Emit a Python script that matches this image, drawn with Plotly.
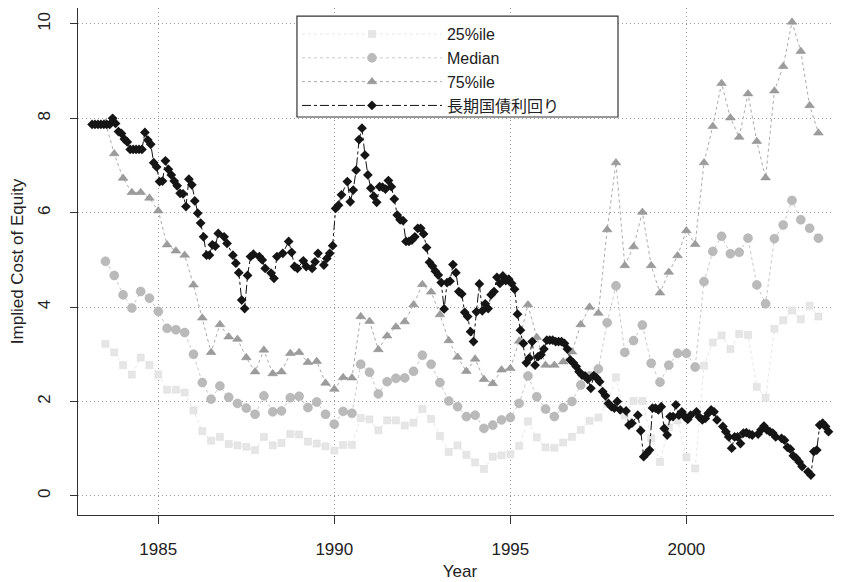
import plotly.graph_objects as go

# ---------------- data ----------------
q_start = 1983.5          # first quarter shown for the percentile series
q_step = 0.25

p25 = [3.22, 3.04, 2.77, 2.57, 2.93, 2.77, 2.57, 2.25, 2.25, 2.19,
       1.81, 1.37, 1.17, 1.25, 1.10, 1.07, 1.04, 0.97, 1.25, 1.07,
       1.12, 1.31, 1.30, 1.15, 1.11, 1.05, 0.96, 1.08, 1.08, 1.65,
       1.62, 1.39, 1.60, 1.60, 1.49, 1.55, 1.84, 1.63, 1.27, 0.93,
       1.07, 0.87, 0.71, 0.57, 0.83, 0.86, 0.88, 1.06, 1.58, 1.24,
       1.03, 1.02, 1.13, 1.25, 1.40, 1.59, 1.66, 1.95, 2.51, 1.70,
       2.01, 2.01, 1.22, 0.72, 1.45, 1.60, 0.82, 0.58, 2.76, 3.25,
       3.40, 3.11, 3.43, 3.41, 2.31, 2.08, 3.54, 3.72, 3.93, 3.74,
       4.03, 3.80]

median = [4.97, 4.67, 4.26, 3.98, 4.33, 4.19, 3.91, 3.55, 3.52, 3.46,
          3.00, 2.40, 2.05, 2.33, 2.09, 1.96, 1.86, 1.73, 2.12, 1.78,
          1.80, 2.08, 2.11, 1.87, 1.99, 1.73, 1.52, 1.79, 1.75, 2.79,
          2.62, 2.16, 2.42, 2.49, 2.50, 2.64, 2.98, 2.79, 2.40, 2.01,
          1.89, 1.68, 1.71, 1.43, 1.50, 1.61, 1.66, 1.96, 2.54, 2.10,
          1.84, 1.68, 1.87, 2.00, 2.35, 2.54, 2.69, 3.67, 4.45, 3.04,
          3.29, 3.62, 2.81, 2.41, 2.77, 3.02, 3.02, 2.73, 4.54, 5.18,
          5.50, 5.13, 5.16, 5.46, 4.47, 4.07, 5.45, 5.74, 6.26, 5.85,
          5.67, 5.46]

p75 = [7.90, 7.25, 6.73, 6.43, 6.43, 6.31, 6.04, 5.32, 5.19, 5.10,
       4.47, 3.77, 3.04, 3.63, 3.37, 3.32, 2.93, 2.63, 3.09, 2.59,
       2.63, 3.02, 3.04, 2.83, 2.85, 2.39, 2.26, 2.51, 2.50, 3.80,
       3.70, 3.10, 3.39, 3.58, 3.69, 4.05, 4.48, 4.32, 3.84, 3.29,
       2.94, 2.64, 2.90, 2.47, 2.38, 2.67, 2.70, 3.28, 4.05, 3.36,
       2.77, 2.77, 2.84, 3.05, 3.63, 4.00, 3.87, 5.64, 7.06, 4.88,
       5.28, 6.01, 4.88, 4.30, 4.74, 5.09, 5.62, 5.33, 7.06, 7.83,
       8.74, 8.01, 7.60, 8.52, 7.51, 6.74, 8.58, 9.10, 10.04, 9.42,
       8.27, 7.69]

# JGB yield: month offsets from the first month shown (Feb 1983) and values
jgb_start = 1983.12
jgb_month = [0, 1, 2, 3, 4, 5, 6, 7, 8, 9, 10, 11, 12, 13, 14, 15, 16, 17, 18, 19,
             20, 21, 22, 23, 24, 25, 26, 27, 28, 29, 30, 31, 32, 33, 34, 35, 36, 37, 38, 39,
             40, 41, 42, 43, 45, 46, 48, 49, 50, 51, 52, 53, 54, 55, 57, 58, 59, 61, 62, 63,
             65, 67, 68, 69, 70, 72, 73, 75, 76, 77, 79, 80, 81, 82, 83, 84, 85, 87, 88, 89,
             90, 91, 92, 93, 94, 95, 96, 97, 98, 99, 100, 101, 102, 103, 104, 105, 106, 107, 108, 109,
             110, 111, 112, 113, 114, 115, 116, 117, 118, 119, 120, 121, 122, 123, 124, 125, 126, 127, 128, 129,
             130, 131, 132, 133, 134, 135, 136, 137, 138, 139, 140, 141, 142, 143, 144, 145, 146, 147, 148, 149,
             150, 151, 152, 153, 154, 155, 156, 157, 158, 159, 160, 161, 162, 163, 164, 165, 166, 167, 168, 169,
             170, 171, 172, 173, 174, 175, 176, 177, 178, 179, 180, 182, 183, 184, 186, 187, 188, 189, 190, 191,
             192, 193, 194, 195, 196, 197, 198, 199, 200, 201, 202, 203, 204, 206, 207, 208, 209, 210, 211, 212,
             213, 215, 216, 217, 218, 219, 220, 221, 222, 223, 224, 225, 227, 228, 229, 230, 231, 232, 233, 235,
             236, 237, 238, 239, 240, 241, 242, 244, 245, 246, 247, 248, 249, 250, 251]
jgb = [7.87, 7.87, 7.87, 7.87, 7.87, 7.87, 7.87, 8.00, 7.89, 7.72, 7.68, 7.56, 7.50, 7.34, 7.34, 7.34, 7.34, 7.34, 7.70, 7.54,
       7.45, 7.06, 6.97, 6.66, 6.67, 7.10, 6.92, 6.80, 6.67, 6.57, 6.41, 6.40, 6.13, 6.71, 6.59, 6.25, 5.99, 5.78, 5.49, 5.10,
       5.10, 5.32, 5.29, 5.56, 5.49, 5.35, 5.10, 4.93, 4.73, 4.15, 3.97, 4.67, 5.07, 5.12, 5.07, 5.00, 4.82, 4.72, 4.61, 5.07,
       5.14, 5.39, 5.16, 4.86, 4.82, 4.98, 4.86, 4.82, 4.96, 5.14, 4.89, 5.03, 5.14, 5.30, 6.09, 6.16, 6.38, 6.66, 6.23, 6.48,
       6.90, 7.55, 7.79, 7.22, 6.80, 6.52, 6.35, 6.22, 6.55, 6.54, 6.50, 6.68, 6.55, 6.29, 5.95, 5.85, 5.83, 5.39, 5.39, 5.42,
       5.49, 5.67, 5.67, 5.55, 5.26, 4.95, 4.87, 4.76, 4.68, 4.52, 3.96, 4.52, 4.55, 4.90, 4.73, 4.33, 4.28, 3.89, 3.80, 3.48,
       3.27, 3.90, 4.49, 3.92, 4.07, 3.97, 4.26, 4.33, 4.63, 4.50, 4.66, 4.56, 4.59, 4.50, 4.38, 3.85, 3.51, 3.23, 2.82, 2.92,
       3.27, 2.77, 2.95, 2.99, 3.11, 3.30, 3.30, 3.30, 3.27, 3.27, 3.27, 3.23, 3.11, 2.88, 2.82, 2.74, 2.63, 2.56, 2.54, 2.47,
       2.28, 2.55, 2.50, 2.42, 2.21, 2.12, 1.96, 1.89, 1.86, 2.00, 1.82, 1.80, 1.50, 1.54, 1.71, 1.38, 0.83, 0.90, 0.97, 1.86,
       1.86, 1.82, 1.89, 1.43, 1.29, 1.68, 1.68, 1.93, 1.71, 1.78, 1.68, 1.62, 1.71, 1.78, 1.67, 1.61, 1.64, 1.75, 1.82, 1.78,
       1.61, 1.47, 1.36, 1.25, 1.01, 1.25, 1.25, 1.11, 1.33, 1.34, 1.31, 1.29, 1.31, 1.40, 1.48, 1.40, 1.36, 1.33, 1.25, 1.22,
       1.18, 1.03, 0.99, 0.85, 0.80, 0.72, 0.62, 0.51, 0.44, 0.94, 0.97, 1.50, 1.54, 1.47, 1.36]

names = ["25%ile", "Median", "75%ile", "長期国債利回り"]
x_ticks = [1985, 1990, 1995, 2000]
y_ticks = [0, 2, 4, 6, 8, 10]

quarters = [q_start + q_step * i for i in range(len(p75))]
jgb_x = [jgb_start + m / 12 for m in jgb_month]

FONT = "Liberation Sans, Arial, Noto Sans CJK JP, sans-serif"
GRID_DASH = "1px,3px"

fig = go.Figure()
fig.add_trace(go.Scatter(
    x=quarters, y=p25, name=names[0], mode="lines+markers",
    line=dict(color="#e6e6e6", width=1, dash="dot"),
    marker=dict(symbol="square", size=7, color="#e6e6e6",
                line=dict(color="#dadada", width=0.5))))
fig.add_trace(go.Scatter(
    x=quarters, y=median, name=names[1], mode="lines+markers",
    line=dict(color="#c8c8c8", width=1, dash="dot"),
    marker=dict(symbol="circle", size=9, color="#bababa",
                line=dict(color="#aaaaaa", width=0.5))))
fig.add_trace(go.Scatter(
    x=quarters, y=p75, name=names[2], mode="lines+markers",
    line=dict(color="#aaaaaa", width=1, dash="dot"),
    marker=dict(symbol="triangle-up", size=8.5, color="#9c9c9c",
                line=dict(color="#8a8a8a", width=0.5))))
fig.add_trace(go.Scatter(
    x=jgb_x, y=jgb, name=names[3], mode="lines+markers",
    line=dict(color="#111111", width=1, dash="dashdot"),
    marker=dict(symbol="diamond", size=7.5, color="#151515")))

# the page body adds an 8px offset, so the figure is 8px smaller on each axis
fig.update_layout(
    width=834, height=574,
    margin=dict(l=70, r=0, t=0, b=67),
    paper_bgcolor="white", plot_bgcolor="white",
    font=dict(family=FONT, size=17, color="#222222"),
    showlegend=True,
    legend=dict(x=0.2866, y=0.982, xanchor="left", yanchor="top",
                borderwidth=0, bgcolor="rgba(0,0,0,0)",
                font=dict(size=16), itemwidth=140,
                tracegroupgap=0),
    # legend frame (opaque white box with a dark border, as in the original)
    shapes=[dict(type="rect", xref="paper", yref="paper",
                 x0=0.2866, x1=0.7068, y0=0.785, y1=0.984,
                 line=dict(color="#333333", width=1.2),
                 fillcolor="white", layer="above")],
)
fig.update_xaxes(
    range=[1982.72, 2004.42], tickvals=x_ticks, ticktext=[str(v) for v in x_ticks],
    showgrid=True, gridcolor="#9a9a9a", griddash=GRID_DASH, gridwidth=1,
    zeroline=False, showline=True, linecolor="#333333", linewidth=1.3, mirror=True,
    ticks="outside", ticklen=8, tickcolor="#333333", tickwidth=1.2,
    ticklabelstandoff=10, automargin=False,
    title=dict(text="Year", standoff=7, font=dict(size=17)),
)
fig.update_yaxes(
    range=[-0.405, 10.337], tickvals=y_ticks, ticktext=[str(v) for v in y_ticks],
    tickangle=-90,
    showgrid=True, gridcolor="#9a9a9a", griddash=GRID_DASH, gridwidth=1,
    zeroline=False, showline=True, linecolor="#333333", linewidth=1.3, mirror=False,
    ticks="outside", ticklen=7, tickcolor="#333333", tickwidth=1.2,
    ticklabelstandoff=13, automargin=False,
    title=dict(text="Implied Cost of Equity", standoff=9, font=dict(size=17)),
)

fig.write_html("out.html")
